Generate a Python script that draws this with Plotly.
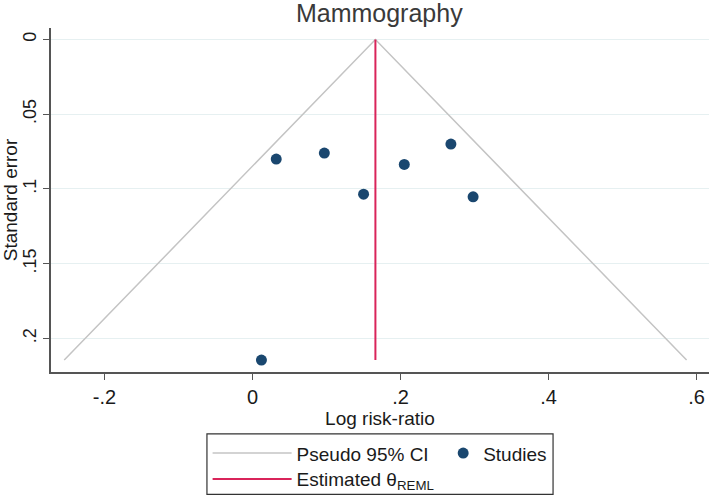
import plotly.graph_objects as go

# study estimates
log_rr = [0.032, 0.097, 0.150, 0.205, 0.268, 0.298, 0.012]
std_err = [0.080, 0.076, 0.1035, 0.0836, 0.070, 0.1053, 0.2145]

theta_reml = 0.166
z95 = 1.96

x_ticks = [-0.2, 0, 0.2, 0.4, 0.6]
x_tick_text = ["-.2", "0", ".2", ".4", ".6"]
y_ticks = [0, 0.05, 0.1, 0.15, 0.2]
y_tick_text = ["0", ".05", ".1", ".15", ".2"]

se_max = max(std_err)
font = "Liberation Sans, Arial, sans-serif"

fig = go.Figure()

# pseudo 95% CI funnel
fig.add_trace(go.Scatter(
    x=[theta_reml - z95 * se_max, theta_reml, theta_reml + z95 * se_max],
    y=[se_max, 0, se_max],
    mode="lines", name="Pseudo 95% CI", showlegend=True,
    line=dict(color="#c4c4c4", width=1.5), legend="legend"))

fig.add_trace(go.Scatter(
    x=log_rr, y=std_err, mode="markers", name="Studies", showlegend=True,
    marker=dict(color="#1a476f", size=11), legend="legend3"))

fig.add_trace(go.Scatter(
    x=[theta_reml, theta_reml], y=[0, se_max],
    mode="lines", name="Estimated θ<sub>REML</sub>", showlegend=True,
    line=dict(color="#d9245a", width=2), legend="legend2"))

leg_common = dict(orientation="h", xanchor="left", yanchor="top",
                  bgcolor="rgba(0,0,0,0)", font=dict(size=19))

fig.update_layout(
    width=709, height=496, showlegend=True,
    margin=dict(l=51, r=0, t=28, b=124, autoexpand=False),
    paper_bgcolor="white", plot_bgcolor="white",
    font=dict(family=font, size=18, color="#1a1a1a"),
    title=dict(text="Mammography", x=0.535, xanchor="center", y=0.974, yanchor="middle",
               font=dict(size=25, color="#3a3a3a")),
    legend=dict(x=0.238, y=-0.181, itemwidth=79, **leg_common),
    legend2=dict(x=0.238, y=-0.256, itemwidth=79, **leg_common),
    legend3=dict(x=0.596, y=-0.181, itemwidth=30, **leg_common),
    shapes=[dict(type="rect", xref="paper", yref="paper",
                 x0=0.237, x1=0.763, y0=-0.180, y1=-0.3555,
                 line=dict(color="#333333", width=1.2))],
)

fig.update_xaxes(
    range=[-0.2723, 0.6167], tickvals=x_ticks, ticktext=x_tick_text,
    showgrid=False, zeroline=False, showline=True, linecolor="#555555", linewidth=1.5,
    ticks="outside", ticklen=6, tickcolor="#555555", automargin=False,
    title=dict(text="Log risk-ratio", standoff=2, font=dict(size=19)),
    tickfont=dict(size=20))

fig.update_yaxes(
    range=[0.2225, -0.0077], tickvals=y_ticks, ticktext=y_tick_text,
    showgrid=True, gridcolor="#e6f0f1", gridwidth=1.2, zeroline=False,
    showline=True, linecolor="#555555", linewidth=1.5, automargin=False,
    ticks="outside", ticklen=6, tickcolor="#555555", tickangle=-90,
    title=dict(text="Standard error", standoff=4, font=dict(size=19)),
    tickfont=dict(size=18))

# drop the default page margin so the figure sits at the window's corner
fig.write_html("out.html", config={"displayModeBar": False},
               post_script="document.body.style.margin = '0';")
